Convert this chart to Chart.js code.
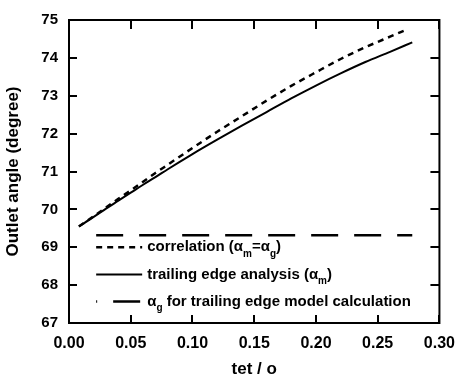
<!DOCTYPE html>
<html>
<head>
<meta charset="utf-8">
<script src="https://cdn.jsdelivr.net/npm/chart.js@4.4.0/dist/chart.umd.min.js"></script>
<style>
  html, body { margin: 0; padding: 0; background: #fff; }
</style>
</head>
<body>
<canvas id="chart" width="466" height="380"></canvas>
<script>
// values
const corrX = [0.008, 0.02, 0.03, 0.04, 0.05, 0.06, 0.07, 0.08, 0.10, 0.12, 0.14, 0.16, 0.18, 0.20, 0.22, 0.24, 0.26, 0.273];
const corrY = [69.55, 69.82, 70.05, 70.28, 70.50, 70.73, 70.96, 71.18, 71.62, 72.05, 72.46, 72.87, 73.26, 73.62, 73.97, 74.28, 74.56, 74.74];
const trailX = [0.008, 0.02, 0.03, 0.04, 0.05, 0.06, 0.07, 0.08, 0.10, 0.12, 0.14, 0.16, 0.18, 0.20, 0.22, 0.24, 0.26, 0.278];
const trailY = [69.55, 69.80, 70.02, 70.23, 70.44, 70.65, 70.85, 71.06, 71.46, 71.84, 72.21, 72.57, 72.93, 73.27, 73.59, 73.89, 74.16, 74.41];
const modelX = [0.022, 0.278];
const modelY = [69.32, 69.32];

const xTicks = [0, 0.05, 0.10, 0.15, 0.20, 0.25, 0.30];
const yTicks = [67, 68, 69, 70, 71, 72, 73, 74, 75];

// "_x" marks a one-letter subscript
const legendLabels = [
    'correlation (α_m=α_g)',
    'trailing edge analysis (α_m)',
    'α_g for trailing edge model calculation'
];

const FONT = '"Liberation Sans", Arial, sans-serif';

function toPoints(xs, ys) {
    return xs.map((x, i) => ({ x: x, y: ys[i] }));
}

const framePlugin = {
    id: 'frame',
    afterDatasetsDraw(chart) {
        const ctx = chart.ctx;
        const a = chart.chartArea;
        const x = chart.scales.x;
        const y = chart.scales.y;
        ctx.save();
        ctx.strokeStyle = '#000';
        ctx.lineWidth = 2;
        ctx.strokeRect(a.left, a.top, a.right - a.left, a.bottom - a.top);
        ctx.beginPath();
        xTicks.forEach(v => {
            const px = Math.round(x.getPixelForValue(v));
            ctx.moveTo(px, a.bottom); ctx.lineTo(px, a.bottom - 8);
            ctx.moveTo(px, a.top); ctx.lineTo(px, a.top + 9);
        });
        yTicks.forEach(v => {
            const py = Math.round(y.getPixelForValue(v));
            ctx.moveTo(a.left, py); ctx.lineTo(a.left + 8, py);
            ctx.moveTo(a.right, py); ctx.lineTo(a.right - 9, py);
        });
        ctx.stroke();
        ctx.restore();
    }
};

const legendPlugin = {
    id: 'innerLegend',
    afterDraw(chart) {
        const ctx = chart.ctx;
        const x = chart.scales.x;
        const y = chart.scales.y;
        const x0 = x.getPixelForValue(0.022);
        const x1 = x0 + 46;
        const rows = [y.getPixelForValue(69.0), y.getPixelForValue(68.28), y.getPixelForValue(67.57)];
        ctx.save();
        chart.data.datasets.forEach((ds, i) => {
            const ry = rows[i];
            ctx.strokeStyle = ds.borderColor;
            ctx.lineWidth = ds.borderWidth;
            ctx.setLineDash(ds.borderDash || []);
            ctx.lineDashOffset = i === 2 ? 26 : 0;
            ctx.beginPath();
            ctx.moveTo(x0, ry);
            ctx.lineTo(x1, ry);
            ctx.stroke();
            ctx.setLineDash([]);

            let tx = x1 + 5;
            const parts = legendLabels[i].split(/(_.)/);
            ctx.fillStyle = '#000';
            ctx.textBaseline = 'middle';
            parts.forEach(p => {
                if (!p) return;
                if (p[0] === '_') {
                    ctx.font = 'bold 10px ' + FONT;
                    ctx.fillText(p[1], tx, ry + 7);
                    tx += ctx.measureText(p[1]).width;
                } else {
                    ctx.font = 'bold 15px ' + FONT;
                    ctx.fillText(p, tx, ry);
                    tx += ctx.measureText(p).width;
                }
            });
        });
        ctx.restore();
    }
};

const config = {
    type: 'line',
    data: {
        datasets: [
            {
                label: legendLabels[0],
                data: toPoints(corrX, corrY),
                borderColor: '#000',
                borderWidth: 2.5,
                borderDash: [6, 5],
                pointRadius: 0,
                cubicInterpolationMode: 'monotone',
                fill: false
            },
            {
                label: legendLabels[1],
                data: toPoints(trailX, trailY),
                borderColor: '#000',
                borderWidth: 2,
                pointRadius: 0,
                cubicInterpolationMode: 'monotone',
                fill: false
            },
            {
                label: legendLabels[2],
                data: toPoints(modelX, modelY),
                borderColor: '#000',
                borderWidth: 2.5,
                borderDash: [27, 16],
                pointRadius: 0,
                fill: false
            }
        ]
    },
    options: {
        responsive: false,
        animation: false,
        devicePixelRatio: 1,
        layout: { padding: { left: 0, top: 10, right: 13, bottom: 0 } },
        plugins: {
            legend: { display: false },
            tooltip: { enabled: false }
        },
        scales: {
            x: {
                type: 'linear',
                min: 0,
                max: 0.3,
                afterFit: (scale) => { scale.height = 57; },
                afterBuildTicks: (scale) => { scale.ticks = xTicks.map(v => ({ value: v })); },
                grid: { display: false, drawTicks: false },
                border: { display: false },
                ticks: {
                    color: '#000',
                    padding: 11,
                    maxRotation: 0,
                    font: { family: FONT, size: 16, weight: 'bold' },
                    callback: (v) => v.toFixed(2)
                },
                title: {
                    display: true,
                    text: 'tet / o',
                    color: '#000',
                    padding: { top: 0, bottom: 0 },
                    font: { family: FONT, size: 17, weight: 'bold' }
                }
            },
            y: {
                min: 67,
                max: 75,
                afterFit: (scale) => { scale.width = 69; },
                afterBuildTicks: (scale) => { scale.ticks = yTicks.map(v => ({ value: v })); },
                grid: { display: false, drawTicks: false },
                border: { display: false },
                ticks: {
                    color: '#000',
                    padding: 11,
                    font: { family: FONT, size: 15, weight: 'bold' }
                },
                title: {
                    display: true,
                    text: 'Outlet angle (degree)',
                    color: '#000',
                    padding: { top: 3, bottom: 0 },
                    font: { family: FONT, size: 17, weight: 'bold' }
                }
            }
        }
    },
    plugins: [framePlugin, legendPlugin]
};

const chart = new Chart(document.getElementById('chart'), config);
</script>
</body>
</html>
